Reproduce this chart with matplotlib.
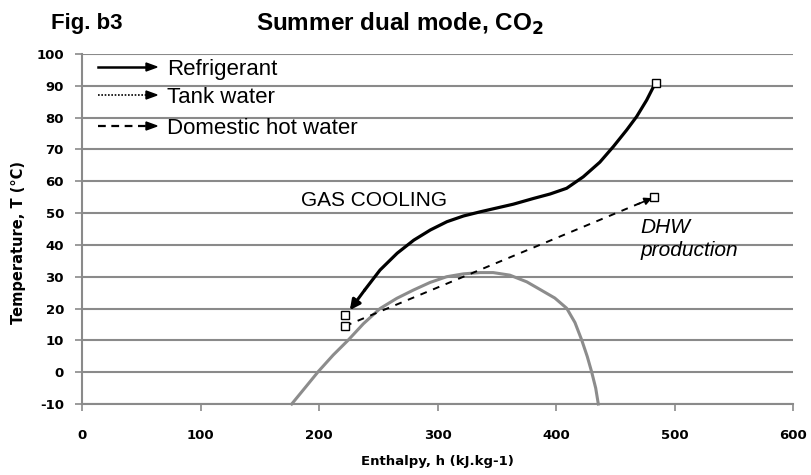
import matplotlib
matplotlib.use("Agg")
import matplotlib.pyplot as plt
from matplotlib.patches import FancyArrow

plt.rcParams["axes.unicode_minus"] = False

# Data
refrig_h = [484, 476.5, 468, 459.6, 448.4, 437, 423, 409, 395, 381, 364, 350, 336, 322, 308, 294, 280, 266, 251.5, 238.5, 226]
refrig_T = [91, 85.5, 80.3, 76.1, 70.9, 66.0, 61.4, 57.8, 56.0, 54.6, 52.8, 51.6, 50.4, 49.1, 47.3, 44.7, 41.5, 37.4, 32.1, 25.8, 19.5]
refrig_ends_h = [484, 222]
refrig_ends_T = [91, 18]
dhw_h = [222, 483]
dhw_T = [14.5, 55]
dome_h = [177, 188, 199.4, 212, 224.7, 237.4, 251.5, 265.6, 279.6, 293.7, 307.7, 321.8, 336, 347, 361, 375.3, 386.5, 399, 409, 416, 421.7, 426.4, 430, 433.5, 435.7]
dome_T = [-10, -5, 0.2, 5.4, 10.1, 15.2, 20.0, 23.2, 25.8, 28.2, 30, 30.9, 31.3, 31.3, 30.5, 28.4, 26.0, 23.3, 20.1, 15.6, 10.1, 4.9, 0.2, -5, -10]
x_ticks = [0, 100, 200, 300, 400, 500, 600]
y_ticks = [-10, 0, 10, 20, 30, 40, 50, 60, 70, 80, 90, 100]
legend_labels = ["Refrigerant", "Tank water", "Domestic hot water"]

W, H = 811, 475
fig = plt.figure(figsize=(W / 100, H / 100), dpi=100)
ax = fig.add_axes([82 / W, 1 - 404 / H, (793 - 82) / W, (404 - 54) / H])

grid_c = "#8a8a8a"
tickfont = ["DejaVu Sans"]
sans = ["Liberation Sans", "DejaVu Sans"]

ax.set_xlim(0, 600)
ax.set_ylim(-10, 100)
ax.set_xticks(x_ticks)
ax.set_yticks(y_ticks)
ax.yaxis.grid(True, color=grid_c, linewidth=1.5)
ax.set_axisbelow(True)
for s in ["top", "right"]:
    ax.spines[s].set_visible(False)
for s in ["left", "bottom"]:
    ax.spines[s].set_color(grid_c)
    ax.spines[s].set_linewidth(1.5)
ax.tick_params(axis="both", colors=grid_c, length=5, width=1.2, labelcolor="black")
ax.tick_params(axis="x", pad=13)
ax.tick_params(axis="y", pad=8)
for lab in ax.get_xticklabels() + ax.get_yticklabels():
    lab.set_fontfamily(tickfont)
    lab.set_fontweight("bold")
    lab.set_fontsize(9.5)

ax.set_xlabel("Enthalpy, h (kJ.kg-1)", fontfamily=tickfont, fontweight="bold", fontsize=9.5, labelpad=9)
fig.text(19 / W, 1 - 242 / H, "Temperature, T (°C)", fontfamily=tickfont, fontweight="bold",
         fontsize=10.5, rotation=90, ha="center", va="center")

# Saturation dome
ax.plot(dome_h, dome_T, color="#8c8c8c", linewidth=2.2, zorder=2, clip_on=False,
        solid_joinstyle="round")

# DHW dashed with arrow at the upper end
ax.plot(dhw_h, dhw_T, color="black", linewidth=1.4, linestyle=(0, (3.5, 3.5)), zorder=3)
ax.annotate("", xy=(dhw_h[1] - 2, dhw_T[1] - 0.3), xytext=(dhw_h[1] - 14, dhw_T[1] - 2.2),
            arrowprops=dict(arrowstyle="-|>", color="black", lw=1.2, mutation_scale=11,
                            shrinkA=0, shrinkB=0), zorder=4)
ax.plot(dhw_h, dhw_T, linestyle="none", marker="s", markersize=6, markerfacecolor="white",
        markeredgecolor="black", markeredgewidth=1.0, zorder=5)

# Refrigerant
ax.plot(refrig_h[:-1], refrig_T[:-1], color="black", linewidth=2.3, zorder=4,
        solid_joinstyle="round", solid_capstyle="round")
ax.annotate("", xy=(refrig_h[-1], refrig_T[-1]), xytext=(refrig_h[-2], refrig_T[-2]),
            arrowprops=dict(arrowstyle="-|>", color="black", lw=2.2, mutation_scale=15,
                            shrinkA=0, shrinkB=0), zorder=4)
ax.plot(refrig_ends_h, refrig_ends_T, linestyle="none", marker="s",
        markersize=6, markerfacecolor="white", markeredgecolor="black", markeredgewidth=1.0, zorder=6)

# Annotations
ax.text(246.5, 54, "GAS COOLING", fontfamily=sans, fontsize=15, ha="center", va="center")
ax.text(471, 48.5, "DHW\nproduction", fontfamily=sans, fontsize=15, style="italic",
        ha="left", va="top", linespacing=1.25)

# Legend (manual)
styles = ["-", (0, (1, 1)), (0, (3.5, 2.5))]
widths = [1.8, 1.2, 1.6]
ys = [67, 95, 126]
for lab, st, lw, y in zip(legend_labels, styles, widths, ys):
    yf = 1 - y / H
    fig.add_artist(plt.Line2D([98 / W, 150 / W], [yf, yf], color="black", linestyle=st, linewidth=lw))
    fig.add_artist(FancyArrow(146 / W, yf, 11 / W, 0, width=0.0001,
                              head_width=8 / H, head_length=11 / W,
                              length_includes_head=True, color="black",
                              transform=fig.transFigure))
    fig.text(167 / W, 1 - (y + 8) / H, lab, fontfamily=sans, fontsize=16, ha="left", va="baseline")

# Titles
fig.text(400 / W, 1 - 24 / H, "Summer dual mode, CO$_\\mathbf{2}$", fontfamily=sans, fontsize=17.5,
         fontweight="bold", ha="center", va="center")
fig.text(51 / W, 1 - 24 / H, "Fig. b3", fontfamily=sans, fontsize=16, fontweight="bold",
         ha="left", va="center")

fig.savefig("out.png", dpi=100)
